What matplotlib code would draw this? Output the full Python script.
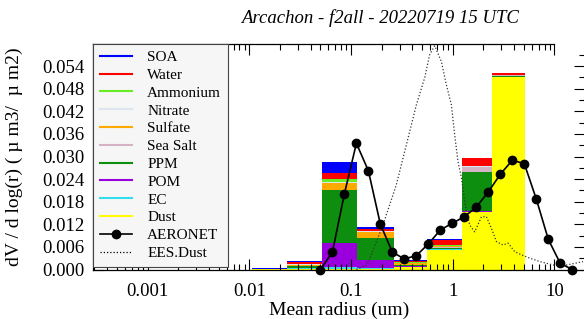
import matplotlib
matplotlib.use('Agg')
import matplotlib.pyplot as plt
from matplotlib.lines import Line2D
import numpy as np

plt.rcParams['font.family'] = ['Liberation Serif', 'DejaVu Serif']

# bin edges (radius, um)
edges = [0.005, 0.0107, 0.0232, 0.0513, 0.114, 0.263, 0.56, 1.24, 2.45, 5.18, 11.2]

# stacked species, one value per bin (bottom -> top order below)
dust     = [0.0, 0.00002, 0.0002, 0.0001, 0.0001, 0.0006, 0.0053, 0.0152, 0.0512, 0.0]
ec       = [0.0, 0.00002, 0.0001, 0.0005, 0.0003, 0.0001, 0.0001, 0.0001, 0.0, 0.0]
pom      = [0.0, 0.00002, 0.0002, 0.0064, 0.00225, 0.0002, 0.0001, 0.0001, 0.0, 0.0]
ppm      = [0.0, 0.00002, 0.0003, 0.0140, 0.0056, 0.0002, 0.0002, 0.0106, 0.0002, 0.0]
seasalt  = [0.0, 0.0, 0.0001, 0.0002, 0.0002, 0.0001, 0.0004, 0.0011, 0.0002, 0.0]
sulfate  = [0.0, 0.00002, 0.0004, 0.0017, 0.0016, 0.0005, 0.0001, 0.0002, 0.0, 0.0]
nitrate  = [0.0, 0.0, 0.0001, 0.0002, 0.0001, 0.0001, 0.0001, 0.0001, 0.0, 0.0]
ammonium = [0.0, 0.0, 0.0001, 0.0009, 0.0002, 0.0001, 0.0001, 0.0001, 0.0, 0.0]
water    = [0.0, 0.0, 0.0004, 0.0017, 0.0004, 0.0004, 0.0013, 0.0020, 0.0006, 0.0]
soa      = [0.0, 0.0003, 0.0004, 0.0029, 0.0005, 0.0002, 0.00045, 0.0001, 0.0001, 0.0]

species = [
    ('Dust', dust, '#ffff00'),
    ('EC', ec, '#33ddee'),
    ('POM', pom, '#9900dd'),
    ('PPM', ppm, '#0e8e0e'),
    ('Sea Salt', seasalt, '#d4b4c4'),
    ('Sulfate', sulfate, '#ffaa00'),
    ('Nitrate', nitrate, '#dde6ee'),
    ('Ammonium', ammonium, '#66ee22'),
    ('Water', water, '#ff0000'),
    ('SOA', soa, '#0000ff'),
]

# AERONET inversion
aer_r = [0.05, 0.065604, 0.086077, 0.112939, 0.148184, 0.194429, 0.255105,
         0.334716, 0.439173, 0.576227, 0.756052, 0.991996, 1.301571, 1.707757,
         2.240702, 2.939966, 3.857452, 5.06126, 6.640745, 8.713145, 11.432287, 15.0]
aer_v = [0.0000, 0.0046, 0.0201, 0.0335, 0.0262, 0.0120, 0.0046, 0.0028,
         0.0037, 0.0068, 0.0105, 0.0123, 0.0140, 0.0166, 0.0206, 0.0253,
         0.0290, 0.0281, 0.0187, 0.0080, 0.0016, 0.0000]

# EES dust
ees_r = [0.113, 0.1445, 0.206, 0.279, 0.350, 0.439, 0.530, 0.593, 0.665, 0.774,
         0.867, 0.971, 1.046, 1.128, 1.218, 1.33, 1.470, 1.647, 1.918, 2.147,
         2.405, 2.694, 3.131, 3.508, 4.08, 4.75, 5.74, 7.2, 9.72, 13.2, 19.1]
ees_v = [0.0, 0.0012, 0.0118, 0.0225, 0.0331, 0.0437, 0.0509, 0.0570, 0.0594,
         0.0552, 0.0490, 0.0437, 0.0357, 0.0286, 0.0243, 0.0170, 0.0118, 0.0100,
         0.0140, 0.0140, 0.0109, 0.0074, 0.0065, 0.0070, 0.0047, 0.0039, 0.0030,
         0.0021, 0.0012, 0.0012, 0.0021]

fig = plt.figure(figsize=(5.84, 3.19), dpi=100)
ax = fig.add_axes([93/584, (319-269.5)/319, (585-93)/584, (269.5-43.5)/319])

left = np.array(edges[:-1])
width = np.array(edges[1:]) - left
bottom = np.zeros(len(left))
for name, vals, col in species:
    ax.bar(left, vals, width=width, bottom=bottom, align='edge', color=col,
           linewidth=0)
    bottom += np.array(vals)

ax.plot(ees_r, ees_v, color='#333333', ls=(0, (1, 1.6)), lw=0.9)
ax.plot(aer_r, aer_v, color='black', lw=1.2, marker='o', ms=6, clip_on=False,
        zorder=5)

ax.set_xscale('log')
ax.set_xlim(2.9e-4, 20)
ax.set_ylim(0, 0.060)
ax.set_yticks(np.arange(0, 0.0541, 0.006))
ax.set_yticks(np.arange(0, 0.060, 0.003), minor=True)
ax.set_xticks([0.001, 0.01, 0.1, 1, 10])
ax.set_xticklabels(['0.001', '0.01', '0.1', '1', '10'])
ax.yaxis.set_major_formatter(matplotlib.ticker.FormatStrFormatter('%.3f'))
ax.tick_params(which='both', direction='in', top=True, right=True,
               labelsize=13.5, width=0.8)
ax.tick_params(which='major', length=8)
ax.tick_params(which='minor', length=4)
ax.tick_params(axis='x', pad=10)
ax.tick_params(axis='y', pad=6)
ax.spines['top'].set_bounds(2.9e-4, 10)
for s in ax.spines.values():
    s.set_linewidth(0.9)

ax.set_xlabel('Mean radius (um)', fontsize=14, labelpad=1)
ax.set_ylabel('dV / d log(r) ( \u00b5 m3/  \u00b5 m2)', fontsize=14, labelpad=14)
fig.text(0.651, 1 - 18/319, 'Arcachon - f2all - 20220719 15 UTC', ha='center',
         va='center', fontsize=13.5, style='italic')

handles = [Line2D([], [], color=c, lw=1.5) for n, v, c in species[::-1]]
labels = [n for n, v, c in species[::-1]]
handles.append(Line2D([], [], color='black', lw=1.2, marker='o', ms=6))
labels.append('AERONET')
handles.append(Line2D([], [], color='black', ls=(0, (1, 1.6)), lw=0.9))
labels.append('EES.Dust')
leg = ax.legend(handles, labels, loc='upper left', bbox_to_anchor=(0, 1),
                fontsize=11, frameon=True, fancybox=False, borderaxespad=0,
                handlelength=2.1, labelspacing=0.27, borderpad=0.45,
                handletextpad=1.0)
leg.get_frame().set_edgecolor('#444444')
leg.get_frame().set_facecolor('#f6f6f6')
leg.get_frame().set_alpha(1)
leg.get_frame().set_linewidth(0.8)

fig.savefig('out.png', dpi=100)
